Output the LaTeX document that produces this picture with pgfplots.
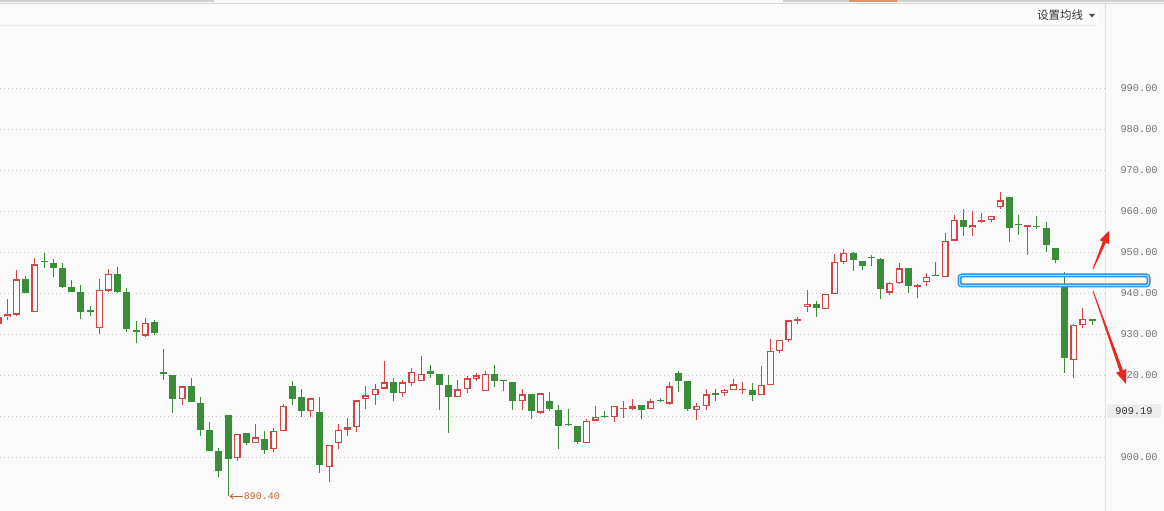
\documentclass[border=0pt]{standalone}
\usepackage{fontspec}
\setmainfont{Liberation Sans}
\newfontfamily\monof{Liberation Mono}
\newfontfamily\cjk{Noto Sans CJK SC}
\usepackage{pgfplots}
\usepackage{pgfplotstable}
\pgfplotsset{compat=1.18}
\usetikzlibrary{arrows.meta}
\definecolor{cred}{RGB}{208,70,70}
\definecolor{cgreen}{RGB}{58,142,58}
\definecolor{cin}{RGB}{253,248,248}
\definecolor{bg}{RGB}{250,250,250}
\definecolor{gridc}{RGB}{200,200,200}
\definecolor{lab}{RGB}{115,115,115}
\definecolor{cblue}{RGB}{30,145,230}
\definecolor{cblue2}{RGB}{170,215,248}
\definecolor{carrow}{RGB}{232,40,30}
\definecolor{corange}{RGB}{200,100,45}

% up (red, hollow) candles: x open high low close
\pgfplotstableread[row sep=\\]{
x o h l c \\
0 932.4 934.3 932.0 934.1 \\
1 934.1 938.5 933.3 934.8 \\
2 934.7 945.6 934.4 943.3 \\
4 935.4 948.5 935.4 947.0 \\
11 931.5 943.3 929.9 940.7 \\
12 940.6 945.8 940.2 944.6 \\
16 929.6 933.8 929.3 932.8 \\
20 914.1 917.2 912.6 917.2 \\
26 899.7 905.7 899.1 905.7 \\
28 903.3 908.0 903.3 904.8 \\
30 901.9 907.0 901.1 906.3 \\
31 906.3 912.9 906.3 912.4 \\
34 911.1 914.3 909.8 914.3 \\
36 897.5 902.9 894.0 902.9 \\
37 903.3 908.0 902.0 906.6 \\
38 906.7 909.4 905.1 907.2 \\
39 907.2 913.8 906.2 913.8 \\
40 914.2 917.3 911.8 915.0 \\
41 915.0 917.8 912.8 916.7 \\
42 916.7 923.4 916.5 918.2 \\
44 915.5 918.7 914.7 918.2 \\
45 918.0 921.6 917.2 920.8 \\
46 918.5 924.6 918.5 920.2 \\
50 914.6 918.7 914.6 916.5 \\
51 916.5 919.8 915.7 919.2 \\
52 919.1 920.4 918.6 919.9 \\
53 916.0 920.9 916.0 920.2 \\
57 913.6 916.7 911.5 915.3 \\
59 910.8 915.5 910.5 915.5 \\
64 903.3 909.3 903.3 908.9 \\
65 908.9 912.4 908.7 909.7 \\
67 909.7 912.4 908.6 912.4 \\
68 911.7 913.6 909.4 911.7 \\
69 911.8 914.1 911.5 912.4 \\
71 911.6 914.1 911.6 913.6 \\
73 913.0 918.2 912.8 917.2 \\
76 911.5 913.1 909.1 912.4 \\
77 912.4 916.7 911.5 915.3 \\
79 915.5 916.6 914.8 916.3 \\
80 916.3 919.0 916.3 917.7 \\
81 916.3 918.3 915.3 916.3 \\
83 915.1 922.3 915.1 917.6 \\
84 917.6 928.9 917.6 925.9 \\
85 925.8 928.5 925.3 928.5 \\
86 928.5 933.3 928.0 933.3 \\
87 933.2 934.1 932.4 933.2 \\
88 936.6 940.8 935.4 937.3 \\
90 936.1 939.8 936.1 939.8 \\
91 939.8 949.5 939.8 947.6 \\
92 947.6 950.7 947.1 949.8 \\
97 940.1 942.7 939.6 942.4 \\
98 942.4 947.3 942.2 946.0 \\
100 941.4 942.2 938.7 942.0 \\
101 942.6 944.8 941.8 944.0 \\
103 943.9 954.7 943.9 952.8 \\
104 952.8 959.1 952.8 957.9 \\
106 955.8 960.0 953.9 956.5 \\
107 957.2 959.6 957.1 957.8 \\
108 957.7 958.8 957.4 958.8 \\
109 961.0 964.6 960.4 962.6 \\
112 956.2 956.3 949.3 956.2 \\
117 923.6 932.5 919.3 932.3 \\
118 932.1 936.3 931.5 933.7 \\
}\upT

% down (green, filled) candles: x open high low close
\pgfplotstableread[row sep=\\]{
x o h l c \\
3 943.3 944.1 940.1 940.1 \\
5 947.5 949.7 946.2 947.5 \\
6 947.3 948.3 944.0 946.2 \\
7 946.1 947.2 941.1 941.5 \\
8 941.5 943.1 940.3 940.3 \\
9 940.2 942.0 933.7 935.4 \\
10 935.4 936.8 934.4 935.4 \\
13 944.6 946.3 940.1 940.2 \\
14 940.2 941.1 930.6 931.3 \\
15 931.0 933.2 927.9 930.4 \\
17 932.9 933.3 929.8 930.3 \\
18 920.3 926.3 918.9 920.3 \\
19 920.0 920.0 910.7 914.2 \\
21 917.2 919.2 913.3 913.5 \\
22 913.1 914.6 905.0 906.7 \\
23 906.6 908.5 901.5 901.5 \\
24 901.5 902.1 895.2 896.7 \\
25 910.2 910.2 890.4 899.6 \\
27 905.8 905.8 903.0 903.5 \\
29 904.4 906.3 900.8 901.8 \\
32 917.3 918.5 912.8 914.2 \\
33 914.6 916.7 909.8 911.3 \\
35 911.0 914.6 896.2 898.1 \\
43 918.3 919.3 913.7 915.7 \\
47 920.9 922.4 919.2 920.3 \\
48 920.2 920.2 911.5 917.6 \\
49 917.5 919.9 905.9 914.7 \\
54 920.2 922.4 917.0 918.6 \\
55 918.5 918.6 916.2 918.5 \\
56 918.2 918.2 911.5 913.7 \\
58 915.4 915.4 909.3 911.1 \\
60 913.6 915.8 911.1 911.8 \\
61 911.4 912.8 901.9 907.6 \\
62 907.8 911.7 907.6 907.8 \\
63 907.6 907.6 903.1 903.7 \\
66 909.7 911.2 909.4 909.7 \\
70 912.6 912.6 909.2 911.5 \\
72 913.6 914.5 913.3 913.6 \\
74 920.4 921.0 915.9 918.6 \\
75 918.5 918.5 911.1 911.7 \\
78 915.2 916.5 913.7 915.2 \\
82 916.3 918.0 913.6 915.2 \\
89 937.3 938.0 934.1 936.3 \\
93 949.8 950.0 945.4 948.0 \\
94 947.8 947.8 945.6 946.7 \\
95 948.5 949.3 946.7 948.5 \\
96 948.3 948.5 938.5 940.9 \\
99 946.0 946.0 940.1 941.8 \\
102 944.1 947.5 944.1 944.1 \\
105 957.9 960.6 953.9 956.1 \\
110 963.3 963.3 952.4 955.8 \\
111 956.5 958.9 954.2 956.5 \\
113 956.1 958.8 955.6 956.1 \\
114 955.9 957.2 950.0 951.7 \\
115 951.0 951.0 947.2 948.0 \\
116 941.8 945.0 920.5 924.1 \\
119 933.2 933.2 932.3 933.2 \\
}\dnT

\pgfplotsset{
  bar/.style 2 args={draw=none, mark=none, forget plot,
    error bars/.cd, y dir=plus, y explicit, error mark=none,
    error bar style={line width=#1, draw=#2}},
}

\begin{document}
\begin{tikzpicture}
\fill[bg] (0,0) rectangle (1164pt,511pt);
\path[use as bounding box] (0,0) rectangle (1164pt,511pt);
\begin{axis}[
  at={(0,0)}, anchor=south west,
  scale only axis, width=1105pt, height=511pt,
  xmin=0.196, xmax=120.4, ymin=886.83, ymax=1011.46,
  xtick=\empty,
  ytick={900,910,...,990},
  yticklabels={900.00,,920.00,930.00,940.00,950.00,960.00,970.00,980.00,990.00},
  yticklabel pos=right,
  axis line style={draw=none},
  tick style={draw=none},
  major tick length=0pt,
  ymajorgrids,
  major grid style={draw=gridc, line width=0.9pt, dash pattern=on 1.2pt off 2.8pt},
  yticklabel style={font=\monof\fontsize{10.3}{12}\selectfont, text=lab, anchor=west, xshift=12pt},
]
% wicks
\addplot[bar={1pt}{cred}] table[x=x, y=l, y error plus expr={\thisrow{h}-\thisrow{l}}] {\upT};
\addplot[bar={1pt}{cgreen}] table[x=x, y=l, y error plus expr={\thisrow{h}-\thisrow{l}}] {\dnT};
% bodies
\addplot[bar={7pt}{cred}] table[x=x, y expr={min(\thisrow{o},\thisrow{c})}, y error plus expr={max(abs(\thisrow{c}-\thisrow{o}),0.35)}] {\upT};
\addplot[bar={7pt}{cgreen}] table[x=x, y expr={min(\thisrow{o},\thisrow{c})}, y error plus expr={max(abs(\thisrow{c}-\thisrow{o}),0.35)}] {\dnT};
% hollow interiors of the up candles
\addplot[bar={4.4pt}{cin}] table[x=x, y expr={min(\thisrow{o},\thisrow{c})+0.31}, y error plus expr={max(abs(\thisrow{c}-\thisrow{o})-0.62,0)}] {\upT};
\coordinate (low) at (axis cs:25,890.4);
\end{axis}

% lowest price marker
\draw[corange, line width=0.9pt, {Straight Barb[length=3pt,width=5pt]}-] ([xshift=1.5pt]low) -- ([xshift=15pt]low)
  node[anchor=west, inner sep=0.5pt, font=\monof\fontsize{10}{12}\selectfont, text=corange] {890.40};

\begin{scope}[x=1pt, y=-1pt, yshift=511pt]
  % top toolbar remnants
  \fill[black!18] (0,0) rectangle (214,2.5);
  \fill[black!18] (783,0) rectangle (1164,2.5);
  \fill[corange!70] (849,0) rectangle (897,2.5);
  \draw[black!16, line width=1pt] (0,3.5) -- (1164,3.5);
  \draw[black!8, line width=1pt] (0,26) -- (1096,26);
  % right separator
  \draw[black!12, line width=1.4pt] (1105.5,4) -- (1105.5,511);
  % header button
  \fill[white] (1035,8) rectangle (1097,24);
  \node[anchor=west, inner sep=0, text=black!80] at (1037,15.5) {\cjk\fontsize{11.5}{12}\selectfont 设置均线};
  \fill[black!70] (1089,14) -- (1095,14) -- (1092,17.5) -- cycle;
  % current price label
  \fill[black!7] (1107,404) rectangle (1161,418.5);
  \node[inner sep=0, text=black!80, font=\monof\fontsize{10.3}{12}\selectfont] at (1134,411.5) {909.19};
  % blue box
  \draw[cblue, line width=4pt, rounded corners=2.5pt] (959.5,275.5) rectangle (1148.5,285.5);
  \draw[cblue2, line width=1.2pt, rounded corners=1.5pt] (959.5,275.5) rectangle (1148.5,285.5);
  % red hand-drawn tapered arrows
  \fill[carrow] (1092.6,268.8) -- (1102.8,241.5) -- (1099.6,240.2) -- (1109,231) -- (1109.0,244.0) -- (1105.8,242.7) -- (1093.4,269.2) -- cycle;
  \fill[carrow] (1092.6,291.1) -- (1119.7,371.4) -- (1116.1,372.7) -- (1126,384) -- (1126.5,368.9) -- (1122.9,370.2) -- (1093.4,290.9) -- cycle;
\end{scope}
\end{tikzpicture}
\end{document}
